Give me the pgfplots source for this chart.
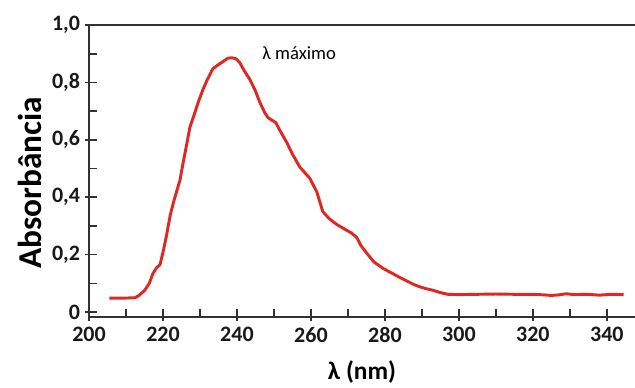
\documentclass[border=0pt]{standalone}
\usepackage{fontspec}
\setmainfont{Carlito}
\usepackage{pgfplots}
\pgfplotsset{compat=1.18}
\definecolor{curvered}{RGB}{222,40,36}
\definecolor{axisgray}{RGB}{50,50,50}
\begin{document}
\begin{tikzpicture}
\begin{axis}[
  scale only axis,
  width=409.5pt, height=219pt,
  xmin=200, xmax=347.6,
  ymin=-0.017, ymax=1.0,
  axis x line*=bottom,
  axis y line*=left,
  axis line style={line width=1.5pt, color=axisgray},
  xtick={200,220,...,340},
  ytick={0,0.2,0.4,0.6,0.8,1.0},
  yticklabels={0,{0,2},{0,4},{0,6},{0,8},{1,0}},
  minor x tick num=1,
  minor y tick num=1,
  tick align=inside,
  major tick length=6pt,
  minor tick length=6pt,
  every tick/.style={line width=1.2pt, color=axisgray},
  extra x ticks={200,220,...,340},
  extra x tick labels={},
  extra x tick style={tick align=outside, major tick length=3pt},
  extra y ticks={0,0.2,0.4,0.6,0.8,1.0},
  extra y tick labels={},
  extra y tick style={tick align=outside, major tick length=3pt},
  /pgf/number format/assume math mode=true,
  tick label style={font=\fontsize{16.5}{18}\selectfont\bfseries, color=black!90, inner sep=1pt},
  xticklabel style={yshift=-6.5pt},
  yticklabel style={xshift=-5.5pt},
  xlabel={λ (nm)},
  ylabel={Absorbância},
  xlabel style={at={([yshift=-41pt]axis description cs:0.5,0)}, anchor=center, font=\fontsize{19}{21}\selectfont\bfseries},
  ylabel style={at={([xshift=-44pt]axis description cs:0,0.46)}, anchor=center, font=\fontsize{25}{27}\selectfont\bfseries},
  clip=false,
]
\addplot[curvered, line width=2.2pt, line join=round] coordinates {
(205.5,0.049) (208,0.049) (210,0.049) (212.4,0.050) (213.5,0.058)
(215,0.075) (216.3,0.10) (217.3,0.135) (218.3,0.155) (219.2,0.165)
(220.2,0.22) (221,0.27) (222,0.34) (223,0.39) (224.6,0.46)
(225.3,0.51) (226.2,0.57) (227.3,0.645) (228.5,0.69) (229.5,0.73)
(230.8,0.775) (232,0.81) (233.5,0.848) (235,0.862) (236.5,0.875)
(237.5,0.884) (238.6,0.886) (239.8,0.882) (240.8,0.868) (242,0.84)
(243.5,0.81) (245,0.77) (246.2,0.73) (247.5,0.695) (248.4,0.677)
(249.5,0.668) (250.5,0.66) (251.5,0.635) (253.5,0.59) (255,0.55)
(257,0.505) (259.7,0.466) (261.6,0.418) (263.2,0.35) (265,0.325)
(267,0.305) (269,0.29) (271,0.275) (272.4,0.26) (273.5,0.232)
(275.1,0.205) (277,0.175) (279.5,0.152) (282,0.135) (284.1,0.12)
(286,0.108) (288,0.095) (289.5,0.088) (291,0.082) (293,0.076)
(295,0.068) (297,0.062) (300,0.061) (305,0.062) (310,0.063)
(315,0.062) (320,0.062) (323,0.060) (325,0.058) (327,0.060)
(329,0.064) (331,0.061) (335,0.062) (338,0.059) (341,0.062)
(344.5,0.061)
};
\draw[line width=1.5pt, color=axisgray] (rel axis cs:0,1) -- (rel axis cs:1,1);
\node[font=\fontsize{14}{16}\selectfont, anchor=center] at (axis cs:256.8,0.903) {λ máximo};
\coordinate (bbNW) at (rel axis cs:0,1);
\coordinate (bbSE) at (rel axis cs:1,0);
\end{axis}
\pgfresetboundingbox
\path ([xshift=-66.75pt,yshift=18.75pt]bbNW) rectangle ([yshift=-52.7pt]bbSE);
\end{tikzpicture}
\end{document}
